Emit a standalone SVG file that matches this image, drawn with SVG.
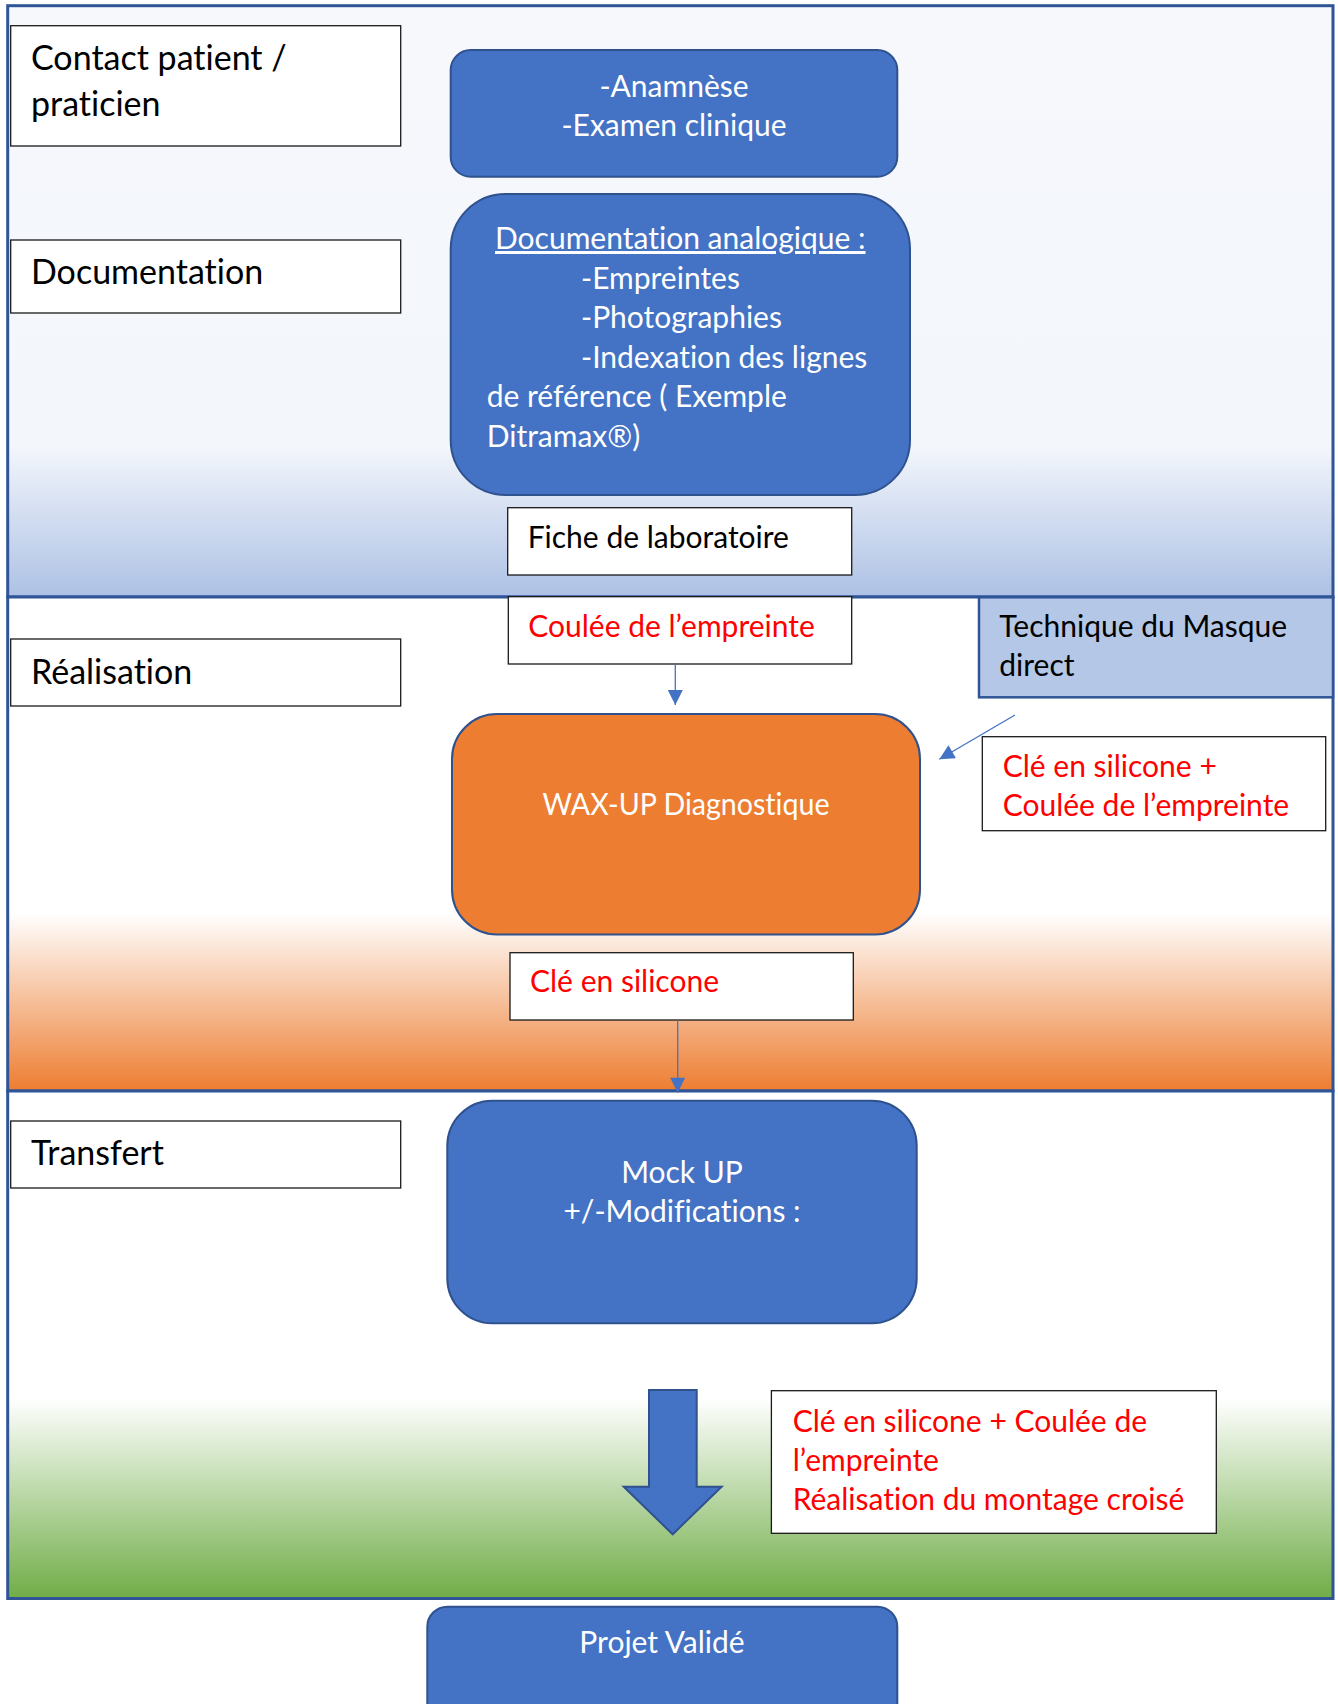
<svg xmlns="http://www.w3.org/2000/svg" width="1338" height="1704" viewBox="0 0 1338 1704">
<defs>
<linearGradient id="g1" x1="0" y1="0" x2="0" y2="1">
<stop offset="0" stop-color="#f6f8fc"/>
<stop offset="0.745" stop-color="#f3f6fb"/>
<stop offset="1" stop-color="#adc1e5"/>
</linearGradient>
<linearGradient id="g2" x1="0" y1="0" x2="0" y2="1">
<stop offset="0" stop-color="#ffffff"/>
<stop offset="0.64" stop-color="#ffffff"/>
<stop offset="1" stop-color="#ed7d31"/>
</linearGradient>
<linearGradient id="g3" x1="0" y1="0" x2="0" y2="1">
<stop offset="0" stop-color="#ffffff"/>
<stop offset="0.605" stop-color="#ffffff"/>
<stop offset="1" stop-color="#70ad47"/>
</linearGradient>
<marker id="ah" viewBox="0 0 10 10" refX="10" refY="5" markerUnits="userSpaceOnUse" markerWidth="16" markerHeight="15" orient="auto">
<path d="M0,0 L10,5 L0,10 z" fill="#4472c4"/>
</marker>
<style>
.sec{stroke:#2f5597;stroke-width:3}
.lbl{fill:#ffffff;stroke:#1a1a1a;stroke-width:1.3}
.blue{fill:#4472c4;stroke:#2f528f;stroke-width:2}
.t{font-family:Lato,"Liberation Sans",sans-serif;font-variant-ligatures:none}
.big{font-size:34px;fill:#000000}
.mid{font-size:30px}
.wt{fill:#ffffff}
.rd{fill:#ff0000}
.bk{fill:#000000}
.con{stroke:#4472c4;stroke-width:1.3;fill:none}
</style>
</defs>

<g id="sections">
<rect id="sec-1" class="sec" x="7.7" y="5.7" width="1325.3" height="591.3" fill="url(#g1)"/>
<rect id="sec-2" class="sec" x="7.7" y="597" width="1325.3" height="494" fill="url(#g2)"/>
<rect id="sec-3" class="sec" x="7.7" y="1091" width="1325.3" height="507.5" fill="url(#g3)"/>
</g>

<g id="label-contact">
<rect class="lbl" x="10.7" y="25.7" width="390" height="120.3"/>
<text class="t big" x="31" y="70">Contact patient /</text>
<text class="t big" x="31" y="116">praticien</text>
</g>
<g id="label-documentation">
<rect class="lbl" x="10.7" y="240" width="390" height="73"/>
<text class="t big" x="31" y="284">Documentation</text>
</g>
<g id="label-realisation">
<rect class="lbl" x="10.7" y="639" width="390" height="67"/>
<text class="t big" x="31" y="683.5">Réalisation</text>
</g>
<g id="label-transfert">
<rect class="lbl" x="10.7" y="1121" width="390" height="67"/>
<text class="t big" x="31" y="1165">Transfert</text>
</g>

<g id="node-anamnese">
<rect class="blue" x="450.7" y="50" width="446.6" height="126.7" rx="20" ry="20"/>
<text class="t mid wt" x="674" y="97" text-anchor="middle">-Anamnèse</text>
<text class="t mid wt" x="674" y="136" text-anchor="middle">-Examen clinique</text>
</g>

<g id="node-documentation">
<rect class="blue" x="450.7" y="194" width="459.3" height="301" rx="55" ry="55"/>
<text class="t mid wt" x="495" y="249" text-decoration="underline">Documentation analogique :</text>
<text class="t mid wt" x="581" y="288.5">-Empreintes</text>
<text class="t mid wt" x="581" y="328">-Photographies</text>
<text class="t mid wt" x="581" y="367.5">-Indexation des lignes</text>
<text class="t mid wt" x="486.7" y="407">de référence ( Exemple</text>
<text class="t mid wt" x="486.7" y="446.5">Ditramax®)</text>
</g>

<g id="node-fiche">
<rect class="lbl" x="507.7" y="507.7" width="344" height="67.3"/>
<text class="t mid bk" x="527.7" y="547.7">Fiche de laboratoire</text>
</g>

<g id="node-coulee">
<rect class="lbl" x="508.3" y="596.7" width="343.4" height="67.3"/>
<text class="t mid rd" x="528.3" y="637">Coulée de l’empreinte</text>
</g>

<g id="node-technique">
<rect x="979" y="597.3" width="354" height="100" fill="#b4c7e7" stroke="#2f5597" stroke-width="2.5"/>
<text class="t mid bk" x="999.3" y="637">Technique du Masque</text>
<text class="t mid bk" x="999.3" y="676">direct</text>
</g>

<g id="node-waxup">
<rect x="452" y="714" width="468" height="220.5" rx="45" ry="45" fill="#ed7d31" stroke="#2f528f" stroke-width="2"/>
<text class="t mid wt" x="686" y="815" text-anchor="middle" textLength="287" lengthAdjust="spacingAndGlyphs">WAX-UP Diagnostique</text>
</g>

<g id="node-cle-coulee">
<rect class="lbl" x="982.3" y="736.7" width="343.4" height="94"/>
<text class="t mid rd" x="1002.7" y="777">Clé en silicone +</text>
<text class="t mid rd" x="1002.7" y="816">Coulée de l’empreinte</text>
</g>

<g id="node-cle">
<rect class="lbl" x="510" y="952.7" width="343.3" height="67.3"/>
<text class="t mid rd" x="530" y="992">Clé en silicone</text>
</g>

<g id="node-mockup">
<rect class="blue" x="447.3" y="1100.7" width="469.4" height="222.6" rx="45" ry="45"/>
<text class="t mid wt" x="682" y="1183" text-anchor="middle">Mock UP</text>
<text class="t mid wt" x="682" y="1222" text-anchor="middle">+/-Modifications :</text>
</g>

<g id="node-montage">
<rect class="lbl" x="771.4" y="1390.7" width="444.9" height="142.6"/>
<text class="t mid rd" x="792.7" y="1431.5">Clé en silicone + Coulée de</text>
<text class="t mid rd" x="792.7" y="1470.5">l’empreinte</text>
<text class="t mid rd" x="792.7" y="1509.5">Réalisation du montage croisé</text>
</g>

<g id="node-projet">
<rect class="blue" x="427.3" y="1606.7" width="470" height="130" rx="20" ry="20"/>
<text class="t mid wt" x="662" y="1653" text-anchor="middle">Projet Validé</text>
</g>

<g id="connectors">
<line class="con" x1="675.3" y1="664" x2="675.3" y2="705" marker-end="url(#ah)"/>
<line class="con" x1="1015" y1="715" x2="939.3" y2="759.3" marker-end="url(#ah)"/>
<line class="con" x1="677.7" y1="1020" x2="677.7" y2="1092.7" marker-end="url(#ah)"/>
<polygon class="blue" points="649,1390 696.7,1390 696.7,1486.7 721.6,1486.7 672.7,1534.3 623.7,1486.7 649,1486.7"/>
</g>
</svg>
